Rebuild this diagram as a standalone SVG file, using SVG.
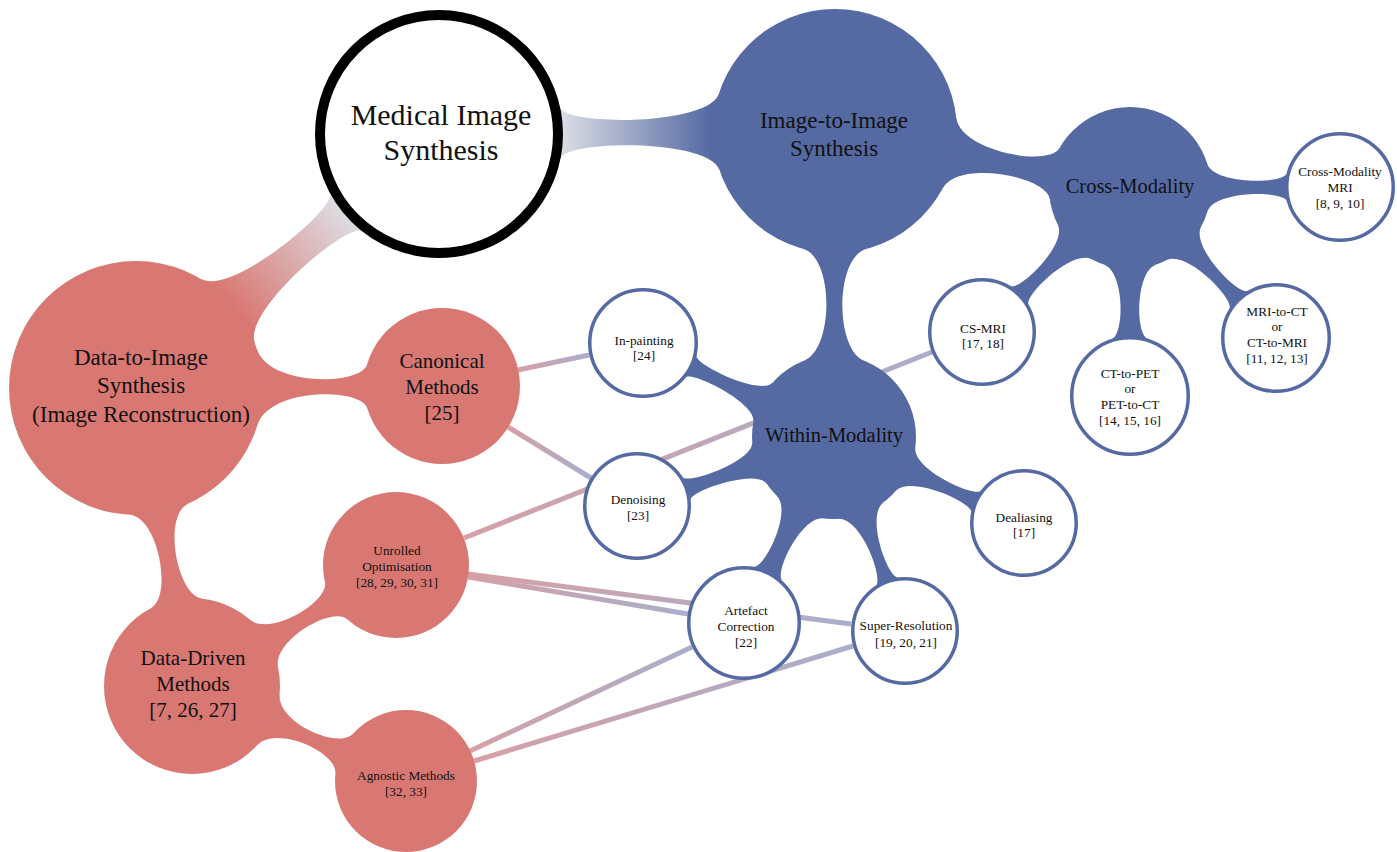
<svg xmlns="http://www.w3.org/2000/svg" width="1397" height="852" viewBox="0 0 1397 852">
<defs>
<linearGradient id="gMI2I" gradientUnits="userSpaceOnUse" x1="121" y1="0" x2="272" y2="0"><stop offset="0" stop-color="#dcdee6"/><stop offset="1" stop-color="#5569a3"/></linearGradient>
<linearGradient id="gMData" gradientUnits="userSpaceOnUse" x1="121" y1="0" x2="268" y2="0"><stop offset="0" stop-color="#dddde3"/><stop offset="1" stop-color="#d97873"/></linearGradient>
<linearGradient id="gLine" x1="0" y1="0" x2="1" y2="0"><stop offset="0" stop-color="#d6a0a6"/><stop offset="1" stop-color="#a9aecb"/></linearGradient>
</defs>
<style>
.blue{fill:#5569a3}
.red{fill:#d97873}
.leaf{fill:#fff;stroke:#5569a3;stroke-width:3.5}
.link{stroke:url(#gLine);stroke-width:5;fill:none}
text{font-family:"Liberation Serif","Times New Roman",serif;fill:#111;text-anchor:middle}
.s{font-size:13.3px}
.m{font-size:21px}
.l{font-size:23px}
</style>
<rect width="1397" height="852" fill="#fff"/>
<g id="connectors">
<line class="link" x1="518" y1="370" x2="589" y2="355"/>
<line class="link" x1="508" y1="427" x2="591" y2="478"/>
<line class="link" x1="464" y1="538" x2="932" y2="352"/>
<line class="link" x1="468" y1="574" x2="851" y2="624"/>
<line class="link" x1="468" y1="577" x2="688" y2="614"/>
<line class="link" x1="470" y1="751" x2="692" y2="647"/>
<line class="link" x1="474" y1="761" x2="853" y2="646"/>
<path fill="url(#gMI2I)" transform="translate(439,134) rotate(-0.43)" d="M121.2,-26C125.3,-6.67 269.8,-6.67 280.1,-38L280.1,38C269.8,6.67 125.3,6.67 121.2,26Z"/>
<path fill="url(#gMData)" transform="translate(439,134) rotate(140.03)" d="M121.5,-25C124.8,-8.83 263.9,-8.83 275.5,-42L275.5,42C263.9,8.83 124.8,8.83 121.5,25Z"/>
<path class="blue" transform="translate(835,131) rotate(90.2)" d="M117.7,-32C126.3,-0.33 218,-0.33 229.7,-30L229.7,30C218,0.33 126.3,0.33 117.7,32Z"/>
<path class="blue" transform="translate(835,131) rotate(10.94)" d="M116.6,-36C126.4,-4.33 216.5,-4.33 223.8,-26L223.8,26C216.5,4.33 126.4,4.33 116.6,36Z"/>
<path class="blue" transform="translate(1130,188) rotate(-0.27)" d="M77.4,-24C83.9,-3 153.9,-3 156.8,-14L156.8,14C153.9,3 83.9,3 77.4,24Z"/>
<path class="blue" transform="translate(1130,188) rotate(45.8)" d="M77.4,-24C84.1,-2.5 153.3,-2.5 155.9,-13L155.9,13C153.3,2.5 84.1,2.5 77.4,24Z"/>
<path class="blue" transform="translate(1130,188) rotate(90)" d="M76.7,-26C83.7,-5.33 146.8,-5.33 150.8,-18L150.8,18C146.8,5.33 83.7,5.33 76.7,26Z"/>
<path class="blue" transform="translate(1130,188) rotate(135.8)" d="M77.4,-24C83.9,-3.17 151.7,-3.17 154.1,-13L154.1,13C151.7,3.17 83.9,3.17 77.4,24Z"/>
<path class="blue" transform="translate(834,437) rotate(206.2)" d="M79,-22C84.1,-3.67 157.3,-3.67 159.2,-12L159.2,12C157.3,3.67 84.1,3.67 79,22Z"/>
<path class="blue" transform="translate(834,437) rotate(160.7)" d="M79,-22C84.1,-3.67 154.2,-3.67 156,-12L156,12C154.2,3.67 84.1,3.67 79,22Z"/>
<path class="blue" transform="translate(834,437) rotate(115.8)" d="M77.8,-26C84.8,-5 148.7,-5 151.9,-16L151.9,16C148.7,5 84.8,5 77.8,26Z"/>
<path class="blue" transform="translate(834,437) rotate(69.9)" d="M78.4,-24C85.1,-2 151.7,-2 154,-12L154,12C151.7,2 85.1,2 78.4,24Z"/>
<path class="blue" transform="translate(834,437) rotate(24.35)" d="M78.4,-24C84.9,-2.67 153.9,-2.67 156,-12L156,12C153.9,2.67 84.9,2.67 78.4,24Z"/>
<path class="red" transform="translate(136,388) rotate(-0.37)" d="M121.2,-38C132.9,-0.67 224.9,-0.67 231.2,-22L231.2,22C224.9,0.67 132.9,0.67 121.2,38Z"/>
<path class="red" transform="translate(136,388) rotate(79.36)" d="M123.4,-30C130.2,-2 211.7,-2 219.1,-26L219.1,26C211.7,2 130.2,2 123.4,30Z"/>
<path class="red" transform="translate(192,686) rotate(-30.67)" d="M83.4,-28C92,-2.33 161.4,-2.33 167.6,-22L167.6,22C161.4,2.33 92,2.33 83.4,28Z"/>
<path class="red" transform="translate(192,686) rotate(23.94)" d="M83.4,-28C92.5,-1 159.8,-1 166.6,-22L166.6,22C159.8,1 92.5,1 83.4,28Z"/>
</g>
<g id="image-to-image"><circle class="blue" cx="835" cy="131" r="122"/><text class="l" x="834" y="128">Image-to-Image</text><text class="l" x="834" y="156">Synthesis</text></g>
<g id="within-modality"><circle class="blue" cx="834" cy="437" r="82"/><text x="834" y="442" style="font-size:20.5px">Within-Modality</text></g>
<g id="cross-modality"><circle class="blue" cx="1130" cy="188" r="81"/><text x="1130" y="193" style="font-size:20.5px">Cross-Modality</text></g>
<g id="cross-modality-mri"><circle class="leaf" cx="1340" cy="187" r="53.25"/><text class="s" x="1340" y="176">Cross-Modality</text><text class="s" x="1340" y="192">MRI</text><text class="s" x="1340" y="208">[8, 9, 10]</text></g>
<g id="mri-to-ct"><circle class="leaf" cx="1276" cy="338" r="53.25"/><text class="s" x="1277" y="316">MRI-to-CT</text><text class="s" x="1277" y="331">or</text><text class="s" x="1277" y="347">CT-to-MRI</text><text class="s" x="1277" y="363">[11, 12, 13]</text></g>
<g id="ct-to-pet"><circle class="leaf" cx="1130" cy="396" r="58.25"/><text class="s" x="1130" y="378">CT-to-PET</text><text class="s" x="1130" y="393">or</text><text class="s" x="1130" y="409">PET-to-CT</text><text class="s" x="1130" y="425">[14, 15, 16]</text></g>
<g id="cs-mri"><circle class="leaf" cx="982" cy="332" r="52.25"/><text class="s" x="983" y="333">CS-MRI</text><text class="s" x="983" y="348">[17, 18]</text></g>
<g id="in-painting"><circle class="leaf" cx="643" cy="343" r="53.25"/><text class="s" x="644" y="345">In-painting</text><text class="s" x="644" y="360">[24]</text></g>
<g id="denoising"><circle class="leaf" cx="637" cy="506" r="52.25"/><text class="s" x="638" y="504">Denoising</text><text class="s" x="638" y="520">[23]</text></g>
<g id="dealiasing"><circle class="leaf" cx="1024" cy="523" r="52.25"/><text class="s" x="1024" y="522">Dealiasing</text><text class="s" x="1024" y="537">[17]</text></g>
<g id="artefact-correction"><circle class="leaf" cx="744" cy="623" r="55.25"/><text class="s" x="746" y="615">Artefact</text><text class="s" x="746" y="631">Correction</text><text class="s" x="746" y="647">[22]</text></g>
<g id="super-resolution"><circle class="leaf" cx="905" cy="631" r="52.25"/><text class="s" x="906" y="630">Super-Resolution</text><text class="s" x="906" y="647">[19, 20, 21]</text></g>
<g id="data-to-image"><circle class="red" cx="136" cy="388" r="127"/><text class="l" x="141" y="365">Data-to-Image</text><text class="l" x="141" y="393">Synthesis</text><text class="l" x="141" y="422">(Image Reconstruction)</text></g>
<g id="canonical-methods"><circle class="red" cx="442" cy="386" r="78"/><text class="m" x="442" y="368">Canonical</text><text class="m" x="442" y="394">Methods</text><text class="m" x="442" y="420">[25]</text></g>
<g id="data-driven-methods"><circle class="red" cx="192" cy="686" r="88"/><text class="m" x="193" y="665">Data-Driven</text><text class="m" x="193" y="691">Methods</text><text class="m" x="193" y="717">[7, 26, 27]</text></g>
<g id="unrolled-optimisation"><circle class="red" cx="396" cy="565" r="73"/><text class="s" x="397" y="555">Unrolled</text><text class="s" x="397" y="571">Optimisation</text><text class="s" x="397" y="587">[28, 29, 30, 31]</text></g>
<g id="agnostic-methods"><circle class="red" cx="406" cy="781" r="71"/><text class="s" x="406" y="780">Agnostic Methods</text><text class="s" x="406" y="796">[32, 33]</text></g>
<g id="medical-image-synthesis"><circle cx="439" cy="134" r="119" fill="#fff" stroke="#000" stroke-width="10"/><text x="441" y="125" style="font-size:30px">Medical Image</text><text x="441" y="160" style="font-size:30px">Synthesis</text></g>
</svg>
